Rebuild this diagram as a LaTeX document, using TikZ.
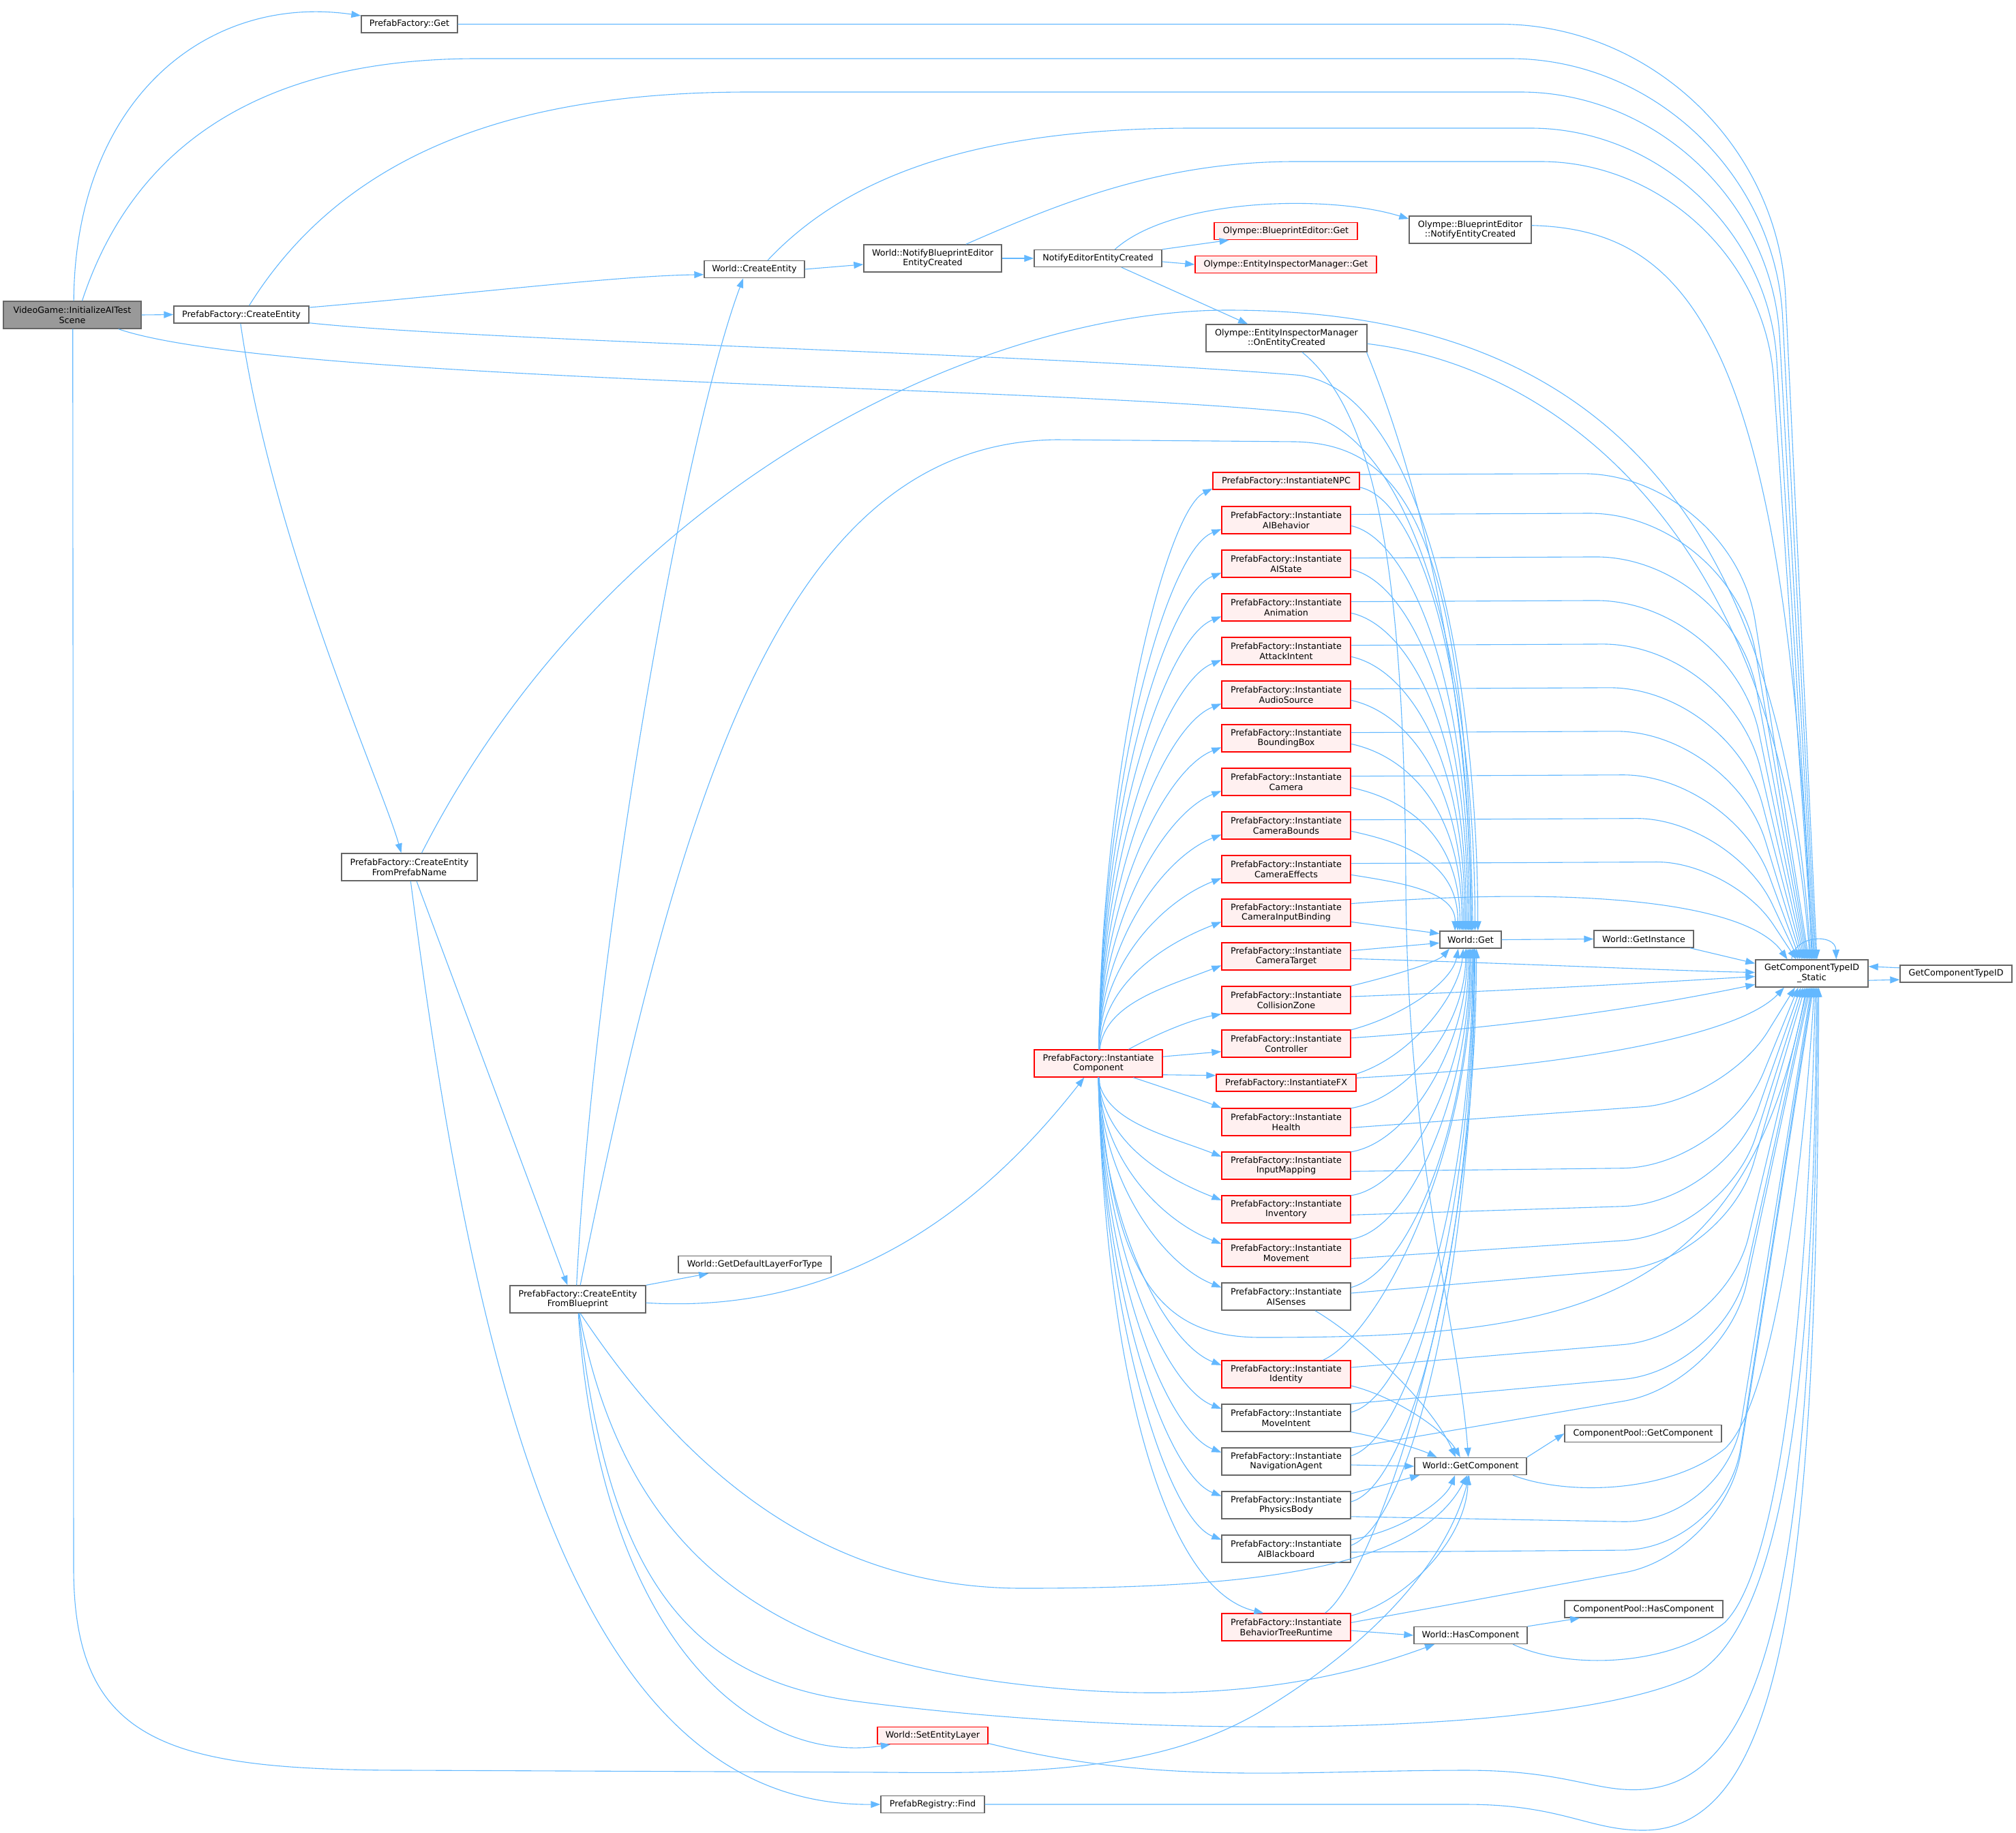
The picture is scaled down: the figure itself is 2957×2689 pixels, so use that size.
\documentclass[tikz,border=0pt]{standalone}
\usepackage{fontspec}
\setmainfont{DejaVu Sans}
\usepackage{tikz}
\usetikzlibrary{arrows.meta}
\definecolor{edgeblue}{HTML}{63B8FF}
\definecolor{nodegray}{HTML}{666666}
\definecolor{rootfill}{HTML}{999999}
\definecolor{redfill}{HTML}{FFF0F0}
\tikzset{
    >={Triangle[length=14pt,width=10pt]},
    fn/.style={draw=nodegray, fill=white, line width=1.4pt, inner sep=0pt, align=center,
        font=\fontsize{12.7}{14.7}\selectfont},
    fnred/.style={fn, draw=red, fill=redfill},
    fnroot/.style={fn, fill=rootfill},
    oneline/.style={minimum height=25pt},
    twoline/.style={minimum height=40pt},
    calls/.style={->, draw=edgeblue, line width=1.1pt}}

\begin{document}
\begin{tikzpicture}[x=1pt, y=-1pt]

            \useasboundingbox (0,0) rectangle (2957,2689);

            \node[fnroot, twoline, minimum width=202pt] (vg) at (106,462) {VideoGame::InitializeAITest\\Scene};
            \node[fn, oneline, minimum width=141pt] (pfget) at (600.5,35.5) {PrefabFactory::Get};
            \node[fn, oneline, minimum width=198pt] (pfcreate) at (354,461.5) {PrefabFactory::CreateEntity};
            \node[fn, oneline, minimum width=147pt] (wcreate) at (1106.5,395) {World::CreateEntity};
            \node[fn, twoline, minimum width=202pt] (notifybp) at (1368,379) {World::NotifyBlueprintEditor\\EntityCreated};
            \node[fn, oneline, minimum width=187pt] (notifyed) at (1610.5,379) {NotifyEditorEntityCreated};
            \node[fnred, oneline, minimum width=210pt] (bpget) at (1886,339) {Olympe::BlueprintEditor::Get};
            \node[fnred, oneline, minimum width=266pt] (eimget) at (1886,388) {Olympe::EntityInspectorManager::Get};
            \node[fn, twoline, minimum width=236pt] (oneic) at (1887,496) {Olympe::EntityInspectorManager\\::OnEntityCreated};
            \node[fn, twoline, minimum width=179pt] (bpnotify) at (2156.5,337) {Olympe::BlueprintEditor\\::NotifyEntityCreated};
            \node[fn, twoline, minimum width=199pt] (fromname) at (600.5,1272) {PrefabFactory::CreateEntity\\FromPrefabName};
            \node[fn, twoline, minimum width=199pt] (frombp) at (847.5,1906) {PrefabFactory::CreateEntity\\FromBlueprint};
            \node[fn, oneline, minimum width=224pt] (deflayer) at (1107,1855) {World::GetDefaultLayerForType};
            \node[fnred, twoline, minimum width=188pt] (instcomp) at (1611,1560) {PrefabFactory::Instantiate\\Component};

            \node[fnred, oneline, minimum width=215pt] (npc) at (1886.5,705.5) {PrefabFactory::InstantiateNPC};
            \node[fnred, twoline, minimum width=189pt] (aibeh) at (1886.5,763) {PrefabFactory::Instantiate\\AIBehavior};
            \node[fnred, twoline, minimum width=189pt] (aistate) at (1886.5,827) {PrefabFactory::Instantiate\\AIState};
            \node[fnred, twoline, minimum width=189pt] (anim) at (1886.5,891) {PrefabFactory::Instantiate\\Animation};
            \node[fnred, twoline, minimum width=189pt] (attack) at (1886.5,955) {PrefabFactory::Instantiate\\AttackIntent};
            \node[fnred, twoline, minimum width=189pt] (audio) at (1886.5,1019) {PrefabFactory::Instantiate\\AudioSource};
            \node[fnred, twoline, minimum width=189pt] (bbox) at (1886.5,1083) {PrefabFactory::Instantiate\\BoundingBox};
            \node[fnred, twoline, minimum width=189pt] (cam) at (1886.5,1147) {PrefabFactory::Instantiate\\Camera};
            \node[fnred, twoline, minimum width=189pt] (cambounds) at (1886.5,1211) {PrefabFactory::Instantiate\\CameraBounds};
            \node[fnred, twoline, minimum width=189pt] (camfx) at (1886.5,1275) {PrefabFactory::Instantiate\\CameraEffects};
            \node[fnred, twoline, minimum width=189pt] (caminput) at (1886.5,1339) {PrefabFactory::Instantiate\\CameraInputBinding};
            \node[fnred, twoline, minimum width=189pt] (camtarget) at (1886.5,1403) {PrefabFactory::Instantiate\\CameraTarget};
            \node[fnred, twoline, minimum width=189pt] (collzone) at (1886.5,1467) {PrefabFactory::Instantiate\\CollisionZone};
            \node[fnred, twoline, minimum width=189pt] (ctrl) at (1886.5,1531) {PrefabFactory::Instantiate\\Controller};
            \node[fnred, oneline, minimum width=205pt] (fx) at (1886.5,1588.5) {PrefabFactory::InstantiateFX};
            \node[fnred, twoline, minimum width=189pt] (health) at (1886.5,1646) {PrefabFactory::Instantiate\\Health};
            \node[fnred, twoline, minimum width=189pt] (inputmap) at (1886.5,1710) {PrefabFactory::Instantiate\\InputMapping};
            \node[fnred, twoline, minimum width=189pt] (inventory) at (1886.5,1774) {PrefabFactory::Instantiate\\Inventory};
            \node[fnred, twoline, minimum width=189pt] (movement) at (1886.5,1838) {PrefabFactory::Instantiate\\Movement};
            \node[fn, twoline, minimum width=189pt] (aisenses) at (1886.5,1902) {PrefabFactory::Instantiate\\AISenses};
            \node[fnred, twoline, minimum width=189pt] (identity) at (1886.5,2016) {PrefabFactory::Instantiate\\Identity};
            \node[fn, twoline, minimum width=189pt] (moveintent) at (1886.5,2080) {PrefabFactory::Instantiate\\MoveIntent};
            \node[fn, twoline, minimum width=189pt] (navagent) at (1886.5,2144) {PrefabFactory::Instantiate\\NavigationAgent};
            \node[fn, twoline, minimum width=189pt] (physbody) at (1886.5,2208) {PrefabFactory::Instantiate\\PhysicsBody};
            \node[fn, twoline, minimum width=189pt] (aiblack) at (1886.5,2272) {PrefabFactory::Instantiate\\AIBlackboard};
            \node[fnred, twoline, minimum width=189pt] (btr) at (1886.5,2387) {PrefabFactory::Instantiate\\BehaviorTreeRuntime};

            \node[fn, oneline, minimum width=90pt] (wget) at (2157,1378.5) {World::Get};
            \node[fn, oneline, minimum width=146pt] (getinst) at (2411,1377.5) {World::GetInstance};
            \node[fn, twoline, minimum width=165pt] (static) at (2657.5,1428) {GetComponentTypeID\\\_Static};
            \node[fn, oneline, minimum width=164pt] (gctid) at (2869,1428.5) {GetComponentTypeID};
            \node[fn, oneline, minimum width=164pt] (wgetcomp) at (2157,2151) {World::GetComponent};
            \node[fn, oneline, minimum width=230pt] (cpgetcomp) at (2410,2103) {ComponentPool::GetComponent};
            \node[fn, oneline, minimum width=166pt] (whascomp) at (2157,2399) {World::HasComponent};
            \node[fn, oneline, minimum width=232pt] (cphascomp) at (2411,2360.5) {ComponentPool::HasComponent};
            \node[fnred, oneline, minimum width=162pt] (setlayer) at (1368,2546) {World::SetEntityLayer};
            \node[fn, oneline, minimum width=152pt] (find) at (1368,2647) {PrefabRegistry::Find};

            \draw[calls] (vg.east) -- (pfcreate.west);
            \draw[calls] (vg.84) .. controls (110,150) and (300,-10) .. (pfget.170);
            \draw[calls] (vg.55) .. controls (200,200) and (400,86) .. (700,86) [rounded corners=380pt] -- (2595,86) -- (static.74);
            \draw[calls] (vg.-17) .. controls (400,560) and (1500,565) .. (1900,605) .. controls (2080,625) and (2163,1000) .. (wget.64);
            \draw[calls] (vg.-88) -- (108,2300) .. controls (108,2560) and (250,2597) .. (600,2597) -- (1300,2600) .. controls (1500,2602) and (1700,2600) .. (1850,2510) .. controls (2000,2420) and (2120,2300) .. (wgetcomp.-98);

            \draw[calls, rounded corners=400pt] (pfget.east) -- (2600,35.5) -- (static.70);

            \draw[calls] (pfcreate.6) .. controls (700,430) and (900,405) .. (wcreate.186);
            \draw[calls] (pfcreate.49) .. controls (520,200) and (800,135) .. (1100,135) [rounded corners=360pt] -- (2590,135) -- (static.78);
            \draw[calls] (pfcreate.-7) .. controls (700,500) and (1500,518) .. (1900,550) .. controls (2090,565) and (2167,1000) .. (wget.51);
            \draw[calls] (pfcreate.-95) .. controls (400,800) and (560,1150) .. (fromname.120);

            \draw[calls] (wcreate.east) -- (notifybp.185);
            \draw[calls] (wcreate.34) .. controls (1250,250) and (1450,188) .. (1750,188) [rounded corners=340pt] -- (2585,188) -- (static.82);

            \draw[calls] (notifybp.east) -- (notifyed.west);
            \draw[calls] (notifybp.23) .. controls (1550,300) and (1700,237) .. (1900,237) [rounded corners=320pt] -- (2580,237) -- (static.86);

            \draw[calls] (notifyed.north east) -- (bpget.189);
            \draw[calls] (notifyed.-3) -- (eimget.west);
            \draw[calls] (notifyed.28) .. controls (1720,290) and (1950,285) .. (bpnotify.170);
            \draw[calls] (notifyed.-21) -- (oneic.160);

            \draw[calls] (bpnotify.4) .. controls (2480,337) and (2620,500) .. (static.90);

            \draw[calls] (oneic.-4) .. controls (2300,540) and (2610,800) .. (static.98);
            \draw[calls] (oneic.-10) .. controls (2080,700) and (2155,1000) .. (wget.84);
            \draw[calls] (oneic.-42) .. controls (2010,600) and (2060,800) .. (2062,1300) .. controls (2064,1700) and (2140,1950) .. (wgetcomp.104);

            \draw[calls] (fromname.-63) -- (frombp.126);
            \draw[calls] (fromname.-85) .. controls (700,2050) and (850,2650) .. (find.west);
            \draw[calls] (fromname.49) .. controls (900,700) and (1450,455) .. (1800,455) .. controls (2300,455) and (2610,700) .. (static.94);

            \draw[calls] (frombp.95) .. controls (870,1400) and (1000,650) .. (wcreate.219);
            \draw[calls] (frombp.80) .. controls (1000,1150) and (1150,650) .. (1550,645) -- (1900,648) .. controls (2050,652) and (2150,760) .. (wget.76);
            \draw[calls] (frombp.north east) -- (deflayer.191);
            \draw[calls] (frombp.-3) .. controls (1250,1930) and (1450,1760) .. (instcomp.-135);
            \draw[calls] (frombp.-80) .. controls (1000,2150) and (1200,2330) .. (1500,2330) .. controls (1850,2330) and (2080,2300) .. (wgetcomp.-110);
            \draw[calls] (frombp.-84) .. controls (920,2300) and (1150,2420) .. (1450,2465) .. controls (1800,2515) and (2000,2450) .. (whascomp.194);
            \draw[calls] (frombp.-86) .. controls (890,2300) and (1000,2460) .. (1250,2495) .. controls (1700,2555) and (2300,2545) .. (2480,2460) .. controls (2620,2390) and (2662,2000) .. (static.288);
            \draw[calls] (frombp.-88) .. controls (880,2400) and (1100,2590) .. (setlayer.192);

            \draw[calls] (instcomp.88) .. controls (1616,1123) and (1710,750) .. (npc.186);
            \draw[calls] (instcomp.88) .. controls (1616,1152) and (1710,808) .. (aibeh.188);
            \draw[calls] (instcomp.88) .. controls (1616,1184) and (1710,872) .. (aistate.188);
            \draw[calls] (instcomp.88) .. controls (1616,1216) and (1710,936) .. (anim.188);
            \draw[calls] (instcomp.88) .. controls (1616,1248) and (1710,1000) .. (attack.188);
            \draw[calls] (instcomp.88) .. controls (1616,1280) and (1710,1064) .. (audio.188);
            \draw[calls] (instcomp.88) .. controls (1616,1312) and (1710,1128) .. (bbox.188);
            \draw[calls] (instcomp.88) .. controls (1616,1344) and (1710,1192) .. (cam.188);
            \draw[calls] (instcomp.88) .. controls (1616,1376) and (1710,1256) .. (cambounds.188);
            \draw[calls] (instcomp.88) .. controls (1616,1408) and (1710,1320) .. (camfx.188);
            \draw[calls] (instcomp.86) .. controls (1618,1440) and (1710,1384) .. (caminput.188);
            \draw[calls] (instcomp.84) .. controls (1620,1472) and (1710,1448) .. (camtarget.188);
            \draw[calls] (instcomp.25) .. controls (1700,1515) and (1750,1495) .. (collzone.south west);
            \draw[calls] (instcomp.6) -- (ctrl.187);
            \draw[calls] (instcomp.-10) -- (fx.174);
            \draw[calls] (instcomp.-22) .. controls (1720,1600) and (1765,1615) .. (health.north west);
            \draw[calls] (instcomp.-90) .. controls (1618,1645) and (1710,1665) .. (inputmap.172);
            \draw[calls] (instcomp.-90) .. controls (1618,1677) and (1710,1729) .. (inventory.172);
            \draw[calls] (instcomp.-90) .. controls (1618,1709) and (1710,1793) .. (movement.172);
            \draw[calls] (instcomp.-90) .. controls (1618,1741) and (1710,1857) .. (aisenses.172);
            \draw[calls] (instcomp.-90) .. controls (1618,1798) and (1710,1971) .. (identity.172);
            \draw[calls] (instcomp.-90) .. controls (1618,1830) and (1710,2035) .. (moveintent.172);
            \draw[calls] (instcomp.-90) .. controls (1618,1862) and (1710,2099) .. (navagent.172);
            \draw[calls] (instcomp.-90) .. controls (1618,1894) and (1710,2163) .. (physbody.172);
            \draw[calls] (instcomp.-90) .. controls (1618,1926) and (1710,2227) .. (aiblack.172);
            \draw[calls] (instcomp.-90) .. controls (1620,1984) and (1700,2330) .. (btr.148);
            \draw[calls] (instcomp.-86) .. controls (1630,1900) and (1720,1962) .. (1850,1962) .. controls (2300,1962) and (2560,1920) .. (static.249);

            \draw[calls] (npc.-5) .. controls (2070,730) and (2157,937) .. (wget.90);
            \draw[calls, rounded corners=220pt] (npc.5) -- (2540,694) -- (static.102);
            \draw[calls] (aibeh.-5) .. controls (2060,788) and (2155,974) .. (wget.99);
            \draw[calls, rounded corners=210pt] (aibeh.5) -- (2540,752) -- (static.106);
            \draw[calls] (aistate.-5) .. controls (2060,852) and (2153,1016) .. (wget.107);
            \draw[calls, rounded corners=200pt] (aistate.5) -- (2540,816) -- (static.110);
            \draw[calls] (anim.-5) .. controls (2060,916) and (2151,1057) .. (wget.116);
            \draw[calls, rounded corners=200pt] (anim.5) -- (2540,880) -- (static.114);
            \draw[calls] (attack.-5) .. controls (2060,980) and (2149,1099) .. (wget.122);
            \draw[calls, rounded corners=190pt] (attack.5) -- (2540,944) -- (static.118);
            \draw[calls] (audio.-5) .. controls (2060,1044) and (2147,1140) .. (wget.129);
            \draw[calls, rounded corners=180pt] (audio.5) -- (2540,1008) -- (static.122);
            \draw[calls] (bbox.-5) .. controls (2060,1108) and (2145,1182) .. (wget.134);
            \draw[calls, rounded corners=170pt] (bbox.5) -- (2540,1072) -- (static.126);
            \draw[calls] (cam.-5) .. controls (2060,1172) and (2142,1224) .. (wget.140);
            \draw[calls, rounded corners=160pt] (cam.5) -- (2540,1136) -- (static.130);
            \draw[calls] (cambounds.-5) .. controls (2060,1236) and (2139,1265) .. (wget.145);
            \draw[calls, rounded corners=140pt] (cambounds.5) -- (2540,1200) -- (static.134);
            \draw[calls] (camfx.-5) .. controls (2055,1295) and (2135,1307) .. (wget.150);
            \draw[calls, rounded corners=110pt] (camfx.5) -- (2540,1264) -- (static.138);
            \draw[calls] (caminput.-8) -- (wget.169);
            \draw[calls] (caminput.8) .. controls (2300,1300) and (2560,1320) .. (static.150);
            \draw[calls] (camtarget.5) -- (wget.186);
            \draw[calls] (camtarget.-2) .. controls (2250,1414) and (2450,1424) .. (static.179);
            \draw[calls] (collzone.north east) .. controls (2050,1430) and (2110,1410) .. (wget.203);
            \draw[calls] (collzone.3) .. controls (2250,1452) and (2450,1440) .. (static.183);
            \draw[calls] (ctrl.12) .. controls (2060,1490) and (2130,1440) .. (wget.216);
            \draw[calls] (ctrl.5) .. controls (2250,1505) and (2450,1470) .. (static.191);
            \draw[calls] (fx.north east) .. controls (2070,1550) and (2140,1460) .. (wget.231);
            \draw[calls] (fx.4) .. controls (2300,1565) and (2550,1520) .. (static.207);
            \draw[calls] (health.12) .. controls (2070,1610) and (2150,1500) .. (wget.241);
            \draw[calls, rounded corners=120pt] (health.-5) -- (2530,1615) -- (static.220);
            \draw[calls] (inputmap.12) .. controls (2070,1675) and (2152,1530) .. (wget.248);
            \draw[calls, rounded corners=150pt] (inputmap.-5) -- (2530,1712) -- (static.226);
            \draw[calls] (inventory.12) .. controls (2070,1740) and (2154,1570) .. (wget.257);
            \draw[calls, rounded corners=150pt] (inventory.-5) -- (2530,1765) -- (static.232);
            \draw[calls] (movement.12) .. controls (2070,1805) and (2156,1600) .. (wget.265);
            \draw[calls, rounded corners=150pt] (movement.-5) -- (2530,1810) -- (static.238);
            \draw[calls] (aisenses.8) .. controls (2070,1865) and (2157,1640) .. (wget.270);
            \draw[calls, rounded corners=150pt] (aisenses.3) -- (2530,1850) -- (static.244);
            \draw[calls] (aisenses.-26) .. controls (2000,1965) and (2100,2060) .. (wgetcomp.149);
            \draw[calls] (identity.21) .. controls (2020,1960) and (2159,1700) .. (wget.279);
            \draw[calls, rounded corners=150pt] (identity.6) -- (2530,1960) -- (static.254);
            \draw[calls] (identity.-10) .. controls (2050,2050) and (2120,2100) .. (wgetcomp.139);
            \draw[calls] (moveintent.5) .. controls (2070,2050) and (2160,1750) .. (wget.283);
            \draw[calls, rounded corners=150pt] (moveintent.north east) -- (2530,2010) -- (static.259);
            \draw[calls] (moveintent.south east) .. controls (2030,2110) and (2080,2125) .. (wgetcomp.165);
            \draw[calls] (navagent.5) .. controls (2070,2110) and (2161,1780) .. (wget.288);
            \draw[calls, rounded corners=150pt] (navagent.12) -- (2530,2030) -- (static.264);
            \draw[calls] (navagent.-3) -- (wgetcomp.west);
            \draw[calls] (physbody.10) -- (wgetcomp.190);
            \draw[calls] (physbody.3) .. controls (2070,2180) and (2162,1820) .. (wget.292);
            \draw[calls, rounded corners=150pt] (physbody.-10) -- (2530,2235) -- (static.268);
            \draw[calls] (aiblack.8) .. controls (2060,2245) and (2120,2200) .. (wgetcomp.210);
            \draw[calls] (aiblack.3) .. controls (2070,2235) and (2163,1850) .. (wget.296);
            \draw[calls, rounded corners=150pt] (aiblack.-3) -- (2530,2273) -- (static.272);
            \draw[calls] (btr.20) .. controls (2010,2320) and (2165,1900) .. (wget.303);
            \draw[calls] (btr.10) .. controls (2060,2350) and (2150,2260) .. (wgetcomp.-105);
            \draw[calls, rounded corners=150pt] (btr.4) -- (2530,2280) -- (static.276);
            \draw[calls] (btr.-3) -- (whascomp.west);

            \draw[calls] (wget.east) -- (getinst.west);
            \draw[calls] (getinst.-11) -- (static.170);
            \draw[calls] (wgetcomp.north east) -- (cpgetcomp.west);
            \draw[calls] (wgetcomp.-12) .. controls (2300,2195) and (2450,2190) .. (2530,2125) .. controls (2590,2070) and (2640,1800) .. (static.280);
            \draw[calls] (whascomp.north east) -- (cphascomp.188);
            \draw[calls] (whascomp.-12) .. controls (2300,2450) and (2450,2445) .. (2530,2380) .. controls (2600,2310) and (2650,2000) .. (static.284);
            \draw[calls] (setlayer.-8) .. controls (1700,2620) and (1900,2597) .. (2150,2597) .. controls (2300,2597) and (2340,2630) .. (2410,2625) .. controls (2600,2610) and (2662,2300) .. (static.292);
            \draw[calls] (find.east) -- (2150,2647) .. controls (2290,2647) and (2330,2685) .. (2410,2685) .. controls (2620,2685) and (2666,2300) .. (static.296);

            \draw[calls] (static.145) .. controls (2630,1372) and (2692,1368) .. (static.30);
            \draw[calls] (static.-7) -- (gctid.186);
            \draw[calls] (gctid.174) -- (static.7);

        \end{tikzpicture}
\end{document}
